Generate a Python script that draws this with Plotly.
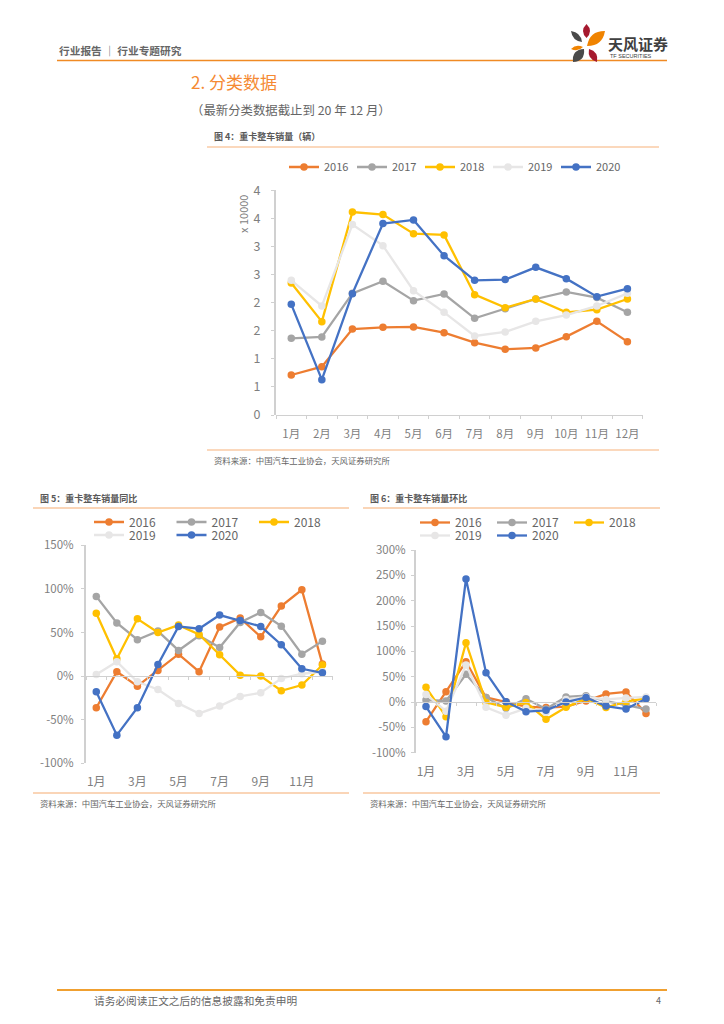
import plotly.graph_objects as go

W, H = 724, 1024
FONT = "Noto Sans CJK SC"

# ---------- data ----------
years = ["2016", "2017", "2018", "2019", "2020"]
months = ["1月", "2月", "3月", "4月", "5月", "6月", "7月", "8月", "9月", "10月", "11月", "12月"]
month_no = [1, 2, 3, 4, 5, 6, 7, 8, 9, 10, 11, 12]
colors = ["#ED7D31", "#A5A5A5", "#FFC000", "#E7E6E6", "#4472C4"]

sales_2016 = [0.712, 0.86, 1.53, 1.56, 1.567, 1.466, 1.288, 1.169, 1.193, 1.395, 1.668, 1.306]
sales_2017 = [1.365, 1.389, 2.166, 2.38, 2.036, 2.154, 1.721, 1.893, 2.065, 2.19, 2.09, 1.828]
sales_2018 = [2.35, 1.662, 3.614, 3.567, 3.228, 3.205, 2.142, 1.911, 2.065, 1.828, 1.875, 2.065]
sales_2019 = [2.398, 1.941, 3.389, 3.015, 2.214, 1.828, 1.407, 1.478, 1.668, 1.78, 1.941, 2.166]
sales_2020 = [1.97, 0.629, 2.16, 3.407, 3.472, 2.837, 2.398, 2.41, 2.629, 2.427, 2.107, 2.249]

yoy_2016 = [-36.3, 5, -11.5, 6.5, 25.2, 5, 56.2, 66.5, 45, 80.3, 99, 13.8]
yoy_2017 = [91.4, 61, 41.7, 51.6, 29.4, 46.3, 32.9, 61.5, 73, 57.3, 25.2, 40.1]
yoy_2018 = [72, 19.9, 65.7, 50, 58.5, 47.8, 24.5, 1.1, 0, -16.8, -10.3, 12.6]
yoy_2019 = [1.9, 16.4, -6.5, -15.3, -31.3, -42.8, -34.4, -23.3, -19.1, -2.7, 2.7, 5]
yoy_2020 = [-18, -67.7, -36.3, 13.4, 57, 54.3, 70, 63.8, 57, 36, 8.4, 3.8]

mom_2016 = [-38.8, 20.4, 79.6, 9, 0.7, -9, -11, -9, 2, 16, 20, -22.4]
mom_2017 = [4, 2, 54.6, 9, -12.5, 6.6, -13.8, 10, 12.5, 2, -6, -13.8]
mom_2018 = [29, -29, 117, -0.7, -10.5, -0.7, -34, -10.5, 7, -11, 0.7, 7]
mom_2019 = [15, -18, 73, -10.5, -26, -12.5, -20, 5, 10, 5, 8, 10]
mom_2020 = [-9, -68.4, 243, 58, 0.7, -19, -16.4, 0, 9, -8, -13.8, 6.6]

sales_ticks = [0, 0.5, 1, 1.5, 2, 2.5, 3, 3.5, 4]
sales_tick_text = ["0", "1", "1", "2", "2", "3", "3", "4", "4"]
yoy_ticks = [-100, -50, 0, 50, 100, 150]
mom_ticks = [-100, -50, 0, 50, 100, 150, 200, 250, 300]


def px(x):
    return x / W


def py(y):
    return 1 - y / H


fig = go.Figure()

GREY = "#7F7F7F"
AXIS = "#D0D0D0"
SPECS = [
    dict(sfx="", xa="xaxis", ya="yaxis", data=[sales_2016, sales_2017, sales_2018, sales_2019, sales_2020],
         legends=["legend"] * 5, left=276, right=642.7, top=190.3, bottom=415, zero=415,
         ymin=0, ymax=4, yticks=sales_ticks, ytext=sales_tick_text,
         xticks=month_no, xtext=months, fs=11.5, yfs=12.5, standoff=8, ylabel_off=8, marker=7.5),
    dict(sfx="2", xa="xaxis2", ya="yaxis2", data=[yoy_2016, yoy_2017, yoy_2018, yoy_2019, yoy_2020],
         legends=["legend2"] * 3 + ["legend3"] * 2, left=86, right=332.7, top=545.3, bottom=763.3, zero=676,
         ymin=-100, ymax=150, yticks=yoy_ticks, ytext=[f"{v}%" for v in yoy_ticks],
         xticks=month_no[::2], xtext=months[::2], fs=12, yfs=11.5, standoff=94, ylabel_off=5, marker=7.5),
    dict(sfx="3", xa="xaxis3", ya="yaxis3", data=[mom_2016, mom_2017, mom_2018, mom_2019, mom_2020],
         legends=["legend4"] * 3 + ["legend5"] * 2, left=416, right=656, top=550, bottom=752.7, zero=702,
         ymin=-100, ymax=300, yticks=mom_ticks, ytext=[f"{v}%" for v in mom_ticks],
         xticks=month_no[::2], xtext=months[::2], fs=12, yfs=11.5, standoff=58, ylabel_off=3, marker=7.5),
]

layout = {}
for s in SPECS:
    for name, vals, col, leg in zip(years, s["data"], colors, s["legends"]):
        fig.add_trace(go.Scatter(
            x=month_no, y=vals, name=name, mode="lines+markers",
            line=dict(color=col, width=2.3), marker=dict(color=col, size=s["marker"]),
            xaxis="x" + s["sfx"], yaxis="y" + s["sfx"], legend=leg, cliponaxis=False,
            hoverinfo="skip",
        ))
    layout[s["xa"]] = dict(
        domain=[px(s["left"]), px(s["right"])], range=[0.5, 12.5],
        anchor="free", position=py(s["zero"]),
        tickmode="array", tickvals=s["xticks"], ticktext=s["xtext"],
        ticks="", ticklabelstandoff=s["standoff"],
        tickfont=dict(family=FONT, size=s["fs"], color=GREY),
        showgrid=False, zeroline=False, showline=True, linecolor=AXIS, linewidth=1.2,
        minor=dict(tickmode="linear", tick0=0.5, dtick=1, ticks="outside", ticklen=3,
                   tickcolor=AXIS, tickwidth=1, showgrid=False),
    )
    layout[s["ya"]] = dict(
        domain=[py(s["bottom"]), py(s["top"])], range=[s["ymin"], s["ymax"]],
        anchor="x" + s["sfx"], tickmode="array", tickvals=s["yticks"], ticktext=s["ytext"],
        ticks="outside", ticklen=3, tickcolor=AXIS, ticklabelstandoff=s["ylabel_off"],
        tickfont=dict(family=FONT, size=s["yfs"], color=GREY),
        showgrid=False, zeroline=False, showline=True, linecolor=AXIS, linewidth=2,
    )


def legend(x, y, fs, entry):
    return dict(
        orientation="h", x=px(x), y=py(y), xanchor="left", yanchor="middle",
        xref="paper", yref="paper", bgcolor="rgba(0,0,0,0)", borderwidth=0,
        font=dict(family=FONT, size=fs, color="#666666"),
        entrywidth=entry, entrywidthmode="pixels", itemwidth=30, tracegroupgap=0,
        itemclick=False, itemdoubleclick=False,
    )


layout["legend"] = legend(284, 167, 11, 23)
layout["legend2"] = legend(89, 522, 12, 37.5)
layout["legend3"] = legend(89, 535, 12, 37.5)
layout["legend4"] = legend(415, 522.5, 12, 32)
layout["legend5"] = legend(415, 535.5, 12, 32)

shapes = []
annotations = []


def rule(x0, x1, y, color, width):
    shapes.append(dict(type="line", xref="paper", yref="paper", x0=px(x0), x1=px(x1),
                       y0=py(y), y1=py(y), line=dict(color=color, width=width)))


def label(x, y, text, size, color="#595959", bold=False, anchor="left", angle=0, font=FONT):
    annotations.append(dict(
        xref="paper", yref="paper", x=px(x), y=py(y), xanchor=anchor, yanchor="middle",
        text=f"<b>{text}</b>" if bold else text, showarrow=False, textangle=angle,
        font=dict(family=font, size=size, color=color), borderpad=0,
    ))


def petal(x1, y1, x2, y2, w, color):
    mx, my = (x1 + x2) / 2, (y1 + y2) / 2
    dx, dy = x2 - x1, y2 - y1
    n = (dx * dx + dy * dy) ** 0.5
    ox, oy = -dy / n * w, dx / n * w
    path = (f"M {px(x1)} {py(y1)} Q {px(mx + ox)} {py(my + oy)} {px(x2)} {py(y2)} "
            f"Q {px(mx - ox)} {py(my - oy)} {px(x1)} {py(y1)} Z")
    shapes.append(dict(type="path", xref="paper", yref="paper", path=path,
                       fillcolor=color, line=dict(width=0)))


ORANGE = "#F08A24"
PALE = "#F7B27A"
rule(57, 667, 60.5, ORANGE, 1.5)
rule(207, 659, 147, PALE, 1.2)
rule(207, 659, 450, PALE, 1.2)
rule(33, 349, 508, "#F9C79F", 1.5)
rule(33, 349, 793, "#F9C79F", 1.5)
rule(363, 660, 508, "#F9C79F", 1.5)
rule(363, 660, 793, "#F9C79F", 1.5)
rule(57, 667, 990, "#F0A030", 2)

label(58, 50, "行业报告 ｜ 行业专题研究", 10.7, "#666666", bold=True)
label(190, 81, "2. 分类数据", 17, "#F58A33", bold=False)
label(190, 110, "（最新分类数据截止到 20 年 12 月）", 12.4, "#666666")
label(213, 136.5, "图 4：重卡整车销量（辆）", 9, "#595959", bold=True)
label(213, 460, "资料来源：中国汽车工业协会，天风证券研究所", 8.4, "#666666")
label(243, 214, "x 10000", 11, GREY, angle=-90, anchor="center")
label(39, 498, "图 5：重卡整车销量同比", 9, "#595959", bold=True)
label(39, 803, "资料来源：中国汽车工业协会，天风证券研究所", 8.4, "#666666")
label(369, 498, "图 6：重卡整车销量环比", 9, "#595959", bold=True)
label(369, 803, "资料来源：中国汽车工业协会，天风证券研究所", 8.4, "#666666")
label(93, 1000, "请务必阅读正文之后的信息披露和免责申明", 10.7, "#666666")
label(662, 1000, "4", 9, "#666666", anchor="right")
label(607, 43, "天风证券", 15, "#404040", bold=True)
label(609, 55.5, "TF SECURITIES", 5.5, "#404040", font="Liberation Sans")

# logo petals
petal(586.5, 24, 586.5, 38, 7, "#A6192E")
petal(571, 31, 582, 42, 6, "#4A4A4A")
petal(587, 46, 605, 31, 10, "#F08300")
petal(571, 49, 583, 47, 4.5, "#F08300")
petal(589, 49, 597, 62, 7, "#A6192E")
petal(584, 49, 573, 62, 9, "#4A4A4A")

fig.update_layout(
    width=W, height=H, margin=dict(l=0, r=0, t=0, b=0, autoexpand=False),
    paper_bgcolor="white", plot_bgcolor="white", shapes=shapes, annotations=annotations,
    font=dict(family=FONT), hovermode=False, **layout,
)
fig.write_html("out.html", config={"displayModeBar": False},
               post_script="document.body.style.margin='0';document.body.style.overflow='hidden';")
